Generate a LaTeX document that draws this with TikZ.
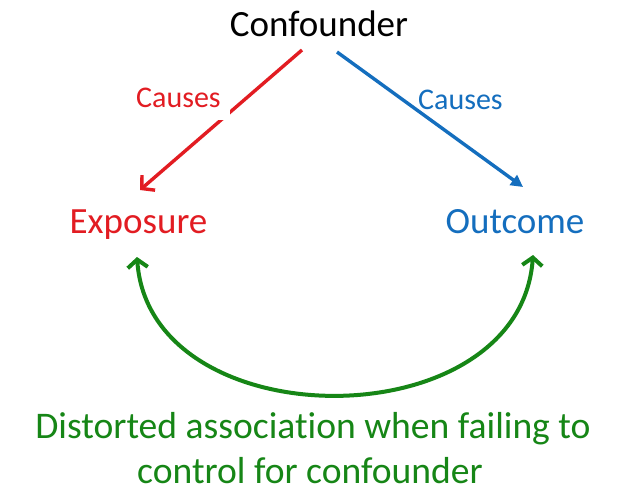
\documentclass[tikz,border=0pt]{standalone}
\usepackage{fontspec}
\setmainfont[Ligatures=NoCommon]{Carlito}
\usetikzlibrary{arrows.meta}
\definecolor{cred}{RGB}{226,28,34}
\definecolor{cblue}{RGB}{20,110,190}
\definecolor{cgreen}{RGB}{22,134,22}
\begin{document}
\begin{tikzpicture}[x=1pt,y=-1pt,
  bigtxt/.style={font=\fontsize{37}{44}\selectfont, inner sep=0pt, anchor=base},
  bottxt/.style={font=\fontsize{37.6}{44}\selectfont, inner sep=0pt, anchor=base, text=cgreen},
  smalltxt/.style={font=\fontsize{30}{36}\selectfont, anchor=base west},
  redarrow/.style={draw=cred, line width=3.4pt, -{Straight Barb[length=9pt,width=20pt]}},
  bluearrow/.style={draw=cblue, line width=3.4pt, -{Triangle[length=12pt,width=12pt]}},
  greenarrow/.style={draw=cgreen, line width=4pt, {Straight Barb[length=8pt,width=20pt]}-{Straight Barb[length=8pt,width=20pt]}}]
\useasboundingbox[fill=white] (0,0) rectangle (621,492);
\node[bigtxt] (conf) at (319,37) {Confounder};
\node[bigtxt, text=cred] (expo) at (138.5,233) {Exposure};
\node[bigtxt, text=cblue] (outc) at (515,233) {Outcome};
\node[bottxt] (dist1) at (313,438) {Distorted association when failing to};
\node[bottxt] (dist2) at (310,483) {control for confounder};
% connectors
\coordinate (rs) at ([shift={(-17,13)}]conf.base);
\coordinate (re) at ([shift={(1.5,-43)}]expo.base);
\coordinate (bs) at ([shift={(18,15)}]conf.base);
\coordinate (be) at ([shift={(8,-46)}]outc.base);
\coordinate (gl) at ([shift={(-1.5,24)}]expo.base);
\coordinate (gr) at ([shift={(18,22)}]outc.base);
\draw[redarrow] (rs) -- (re);
\draw[bluearrow] (bs) -- (be);
\draw[greenarrow] (gl) .. controls ([shift={(13,184)}]gl) and ([shift={(-13,186)}]gr) .. (gr);
% labels
\node[smalltxt, text=cred, fill=white, inner xsep=9pt, inner ysep=12pt, xshift=-9pt] (lab1) at (136,108) {Causes};
\node[smalltxt, text=cblue, inner sep=0pt] (lab2) at (418,110) {Causes};
\end{tikzpicture}
\end{document}
